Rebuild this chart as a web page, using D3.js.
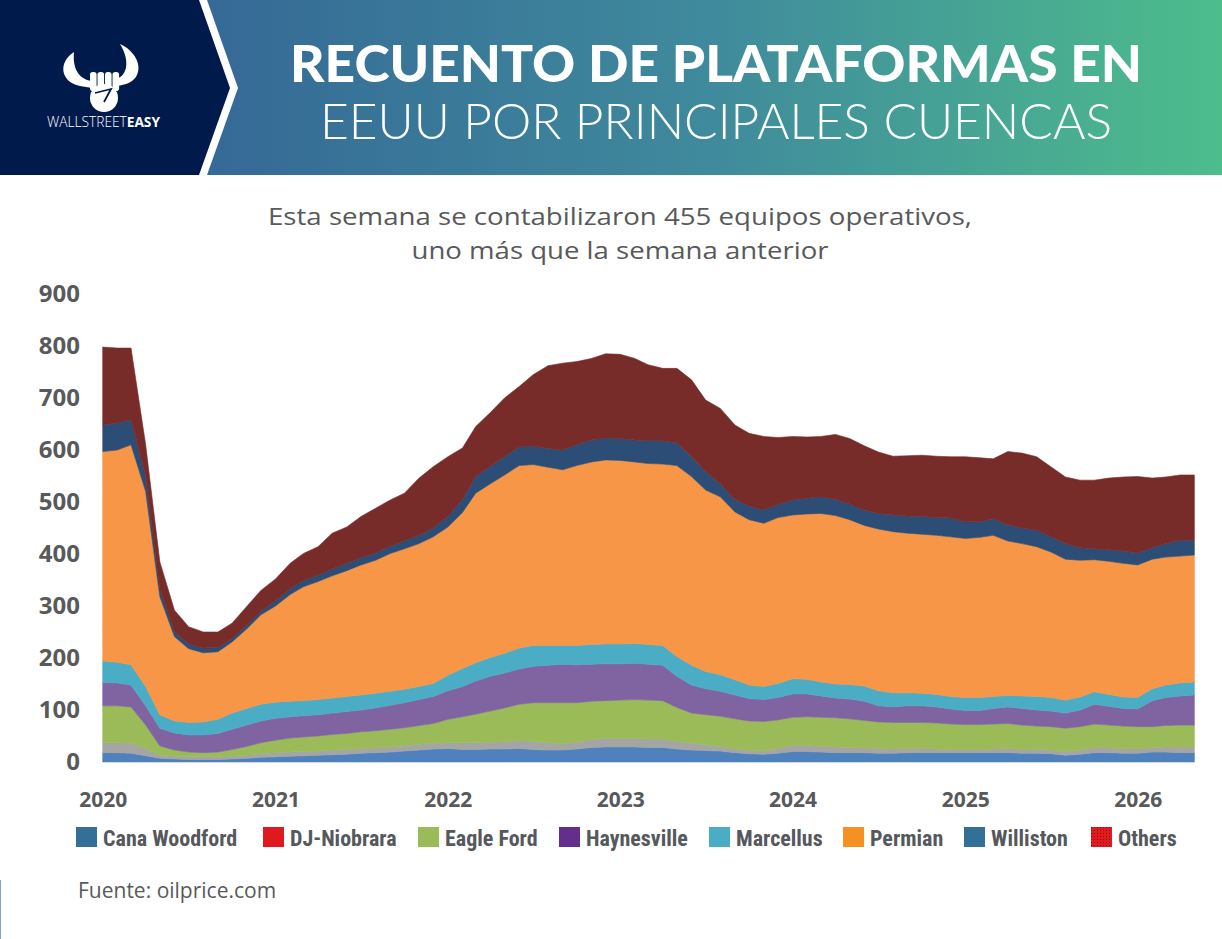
<!DOCTYPE html>
<html>
<head>
<meta charset="utf-8">
<script src="https://cdn.jsdelivr.net/npm/d3@7"></script>
<style>
  body { margin: 0; background: #fff; }
  svg { display: block; }
</style>
</head>
<body>
<svg id="chart" width="1222" height="939"></svg>
<script>
// Monthly points, Jan 2020 .. May 2026
const months = d3.timeMonth.range(new Date(2020, 0, 1), new Date(2026, 5, 1));

const cana = [18,18,17,12,7,6,5,5,5,6,7,9,
  10,11,12,13,14,15,17,18,19,21,23,25,
  26,24,24,25,25,26,24,23,23,25,28,29,
  29,29,28,28,25,23,22,21,18,16,15,17,
  20,20,19,18,18,18,17,17,18,18,18,18,
  18,18,18,18,17,17,16,13,15,18,18,17,
  17,19,19,18,18];
const djNiobrara = [19,19,19,14,6,5,5,5,5,5,6,7,
  8,8,8,8,9,9,9,9,10,10,11,11,
  11,13,13,13,14,15,16,14,12,13,15,16,
  16,16,16,16,14,13,11,9,7,6,6,9,
  12,12,11,11,10,9,9,8,8,8,7,6,
  6,6,7,8,7,7,7,7,8,10,9,9,
  8,9,10,11,11];
const eagleFord = [71,71,70,45,18,12,9,8,9,13,17,21,
  24,27,28,29,30,31,32,33,34,35,36,38,
  45,50,55,60,65,70,74,77,79,76,74,73,
  74,75,75,74,66,58,58,58,58,57,57,55,
  54,55,56,56,55,53,51,51,50,50,50,49,
  48,48,48,48,47,45,45,45,45,45,44,43,
  43,40,41,42,42];
const haynesville = [45,44,42,37,34,33,33,34,36,39,41,42,
  42,41,41,41,41,42,42,44,46,48,50,52,
  55,58,64,67,67,68,70,72,74,73,71,71,
  70,70,69,68,60,54,50,48,46,43,42,43,
  45,44,41,38,38,37,31,30,32,32,31,29,
  27,27,30,32,32,31,30,29,32,38,36,34,
  34,50,54,56,58];
const marcellus = [41,40,39,37,26,23,24,25,27,31,32,32,
  31,30,29,29,29,29,29,28,27,26,25,25,
  30,35,35,36,38,40,40,38,36,37,38,38,
  38,38,38,38,38,38,33,32,29,26,25,27,
  29,28,27,27,28,29,29,27,25,24,24,24,
  25,25,23,22,24,26,26,25,25,24,23,22,
  22,23,24,25,25];
const permian = [403,408,423,375,227,162,142,133,130,137,153,172,
  185,205,219,227,235,242,250,256,265,270,275,282,
  285,300,326,334,343,351,348,343,338,346,351,354,
  353,349,348,349,367,363,349,342,323,318,314,319,
  315,318,324,324,317,309,311,310,307,306,306,307,
  306,308,310,297,293,288,280,271,263,254,256,257,
  255,249,246,244,244];
const williston = [51,52,48,30,14,10,9,9,8,6,7,7,
  10,11,12,12,13,14,14,14,14,15,16,17,
  20,25,32,34,35,36,35,36,38,40,42,42,
  42,42,44,45,44,38,35,25,24,26,26,25,
  29,30,32,31,30,29,30,32,33,34,34,36,
  32,30,32,31,30,32,29,30,24,21,22,24,
  23,22,26,31,28];
const others = [150,144,138,60,53,41,33,31,30,30,36,40,
  42,49,52,55,69,70,79,86,89,92,110,118,
  115,99,96,103,113,116,138,159,167,160,157,162,
  162,157,146,139,143,148,138,145,143,140,141,129,
  122,118,116,125,126,124,118,113,116,118,118,118,
  125,123,115,141,144,141,135,128,130,132,138,142,
  147,134,128,125,126];

const seriesNames = ['Cana Woodford', 'DJ-Niobrara', 'Eagle Ford', 'Haynesville',
  'Marcellus', 'Permian', 'Williston', 'Others'];
const seriesValues = [cana, djNiobrara, eagleFord, haynesville, marcellus, permian, williston, others];
const yTicks = [0, 100, 200, 300, 400, 500, 600, 700, 800, 900];
const yearTicks = [2020, 2021, 2022, 2023, 2024, 2025, 2026];

// colours: areas in the chart, and the (different) legend swatches
const areaColors = ['#4f81bd', '#a5a5a5', '#9bbb59', '#8064a2', '#4bacc6', '#f79646', '#2c4d75', '#772c2a'];
const legendColors = ['#336f96', '#e0191e', '#9bbb59', '#652d8c', '#4bacc6', '#f59120', '#336f96', 'url(#dots)'];
const legendX = [76, 263, 418, 559, 709, 843, 964, 1091];

const svg = d3.select('#chart');
const defs = svg.append('defs');

// ---------- header ----------
const grad = defs.append('linearGradient')
  .attr('id', 'hdr').attr('gradientUnits', 'userSpaceOnUse')
  .attr('x1', 200).attr('x2', 1222).attr('y1', 0).attr('y2', 0);
grad.append('stop').attr('offset', 0).attr('stop-color', '#356996');
grad.append('stop').attr('offset', 0.5).attr('stop-color', '#3f8a9c');
grad.append('stop').attr('offset', 1).attr('stop-color', '#4dbd8c');

const pat = defs.append('pattern').attr('id', 'dots')
  .attr('width', 3).attr('height', 3).attr('patternUnits', 'userSpaceOnUse');
pat.append('rect').attr('width', 3).attr('height', 3).attr('fill', '#e3191e');
pat.append('rect').attr('width', 1).attr('height', 1).attr('fill', '#7a1012');

svg.append('rect').attr('x', 0).attr('y', 0).attr('width', 1222).attr('height', 175).attr('fill', 'url(#hdr)');
svg.append('polygon').attr('points', '0,0 207,0 238,88 207,175 0,175').attr('fill', '#fff');
svg.append('polygon').attr('points', '0,0 199,0 230,88 199,175 0,175').attr('fill', '#011a4c');

// logo (bull horns + fist)
const logo = svg.append('g').attr('fill', '#fff');
logo.append('path').attr('d', 'M74,52 C58,62 60,82 80,86 L92,88 L92,81 C82,80 72,72 74,52 Z');
logo.append('path').attr('d', 'M120,44 C142,54 145,78 126,84 L114,87 L114,80 C127,77 131,62 120,44 Z');
logo.append('circle').attr('cx', 104).attr('cy', 98).attr('r', 14);
[90, 97.5, 105, 112.5].forEach(fx => {
  logo.append('rect').attr('x', fx).attr('y', 72).attr('width', 6.6).attr('height', 19).attr('rx', 2.8);
});
logo.append('path').attr('d', 'M95,93 L111,89 L104,102').attr('fill', 'none')
  .attr('stroke', '#011a4c').attr('stroke-width', 1.8);
const logoText = svg.append('text').attr('x', 47).attr('y', 127)
  .attr('font-family', '"Open Sans", sans-serif').attr('font-size', 14)
  .attr('fill', '#fff').attr('textLength', 113).attr('lengthAdjust', 'spacingAndGlyphs');
logoText.append('tspan').attr('font-weight', 300).text('WALLSTREET');
logoText.append('tspan').attr('font-weight', 700).text('EASY');

svg.append('text').attr('x', 716).attr('y', 82).attr('text-anchor', 'middle')
  .attr('font-family', 'Lato, Inter, sans-serif').attr('font-weight', 900).attr('font-size', 51)
  .attr('fill', '#fff').attr('textLength', 852).attr('lengthAdjust', 'spacingAndGlyphs')
  .text('RECUENTO DE PLATAFORMAS EN');
svg.append('text').attr('x', 716).attr('y', 139).attr('text-anchor', 'middle')
  .attr('font-family', 'Lato, Inter, sans-serif').attr('font-weight', 300).attr('font-size', 50)
  .attr('fill', '#fff').attr('textLength', 792).attr('lengthAdjust', 'spacingAndGlyphs')
  .text('EEUU POR PRINCIPALES CUENCAS');

// subtitle
svg.append('text').attr('x', 620).attr('y', 225).attr('text-anchor', 'middle')
  .attr('font-family', '"Open Sans", sans-serif').attr('font-size', 24.5).attr('fill', '#58595b')
  .attr('textLength', 704).attr('lengthAdjust', 'spacingAndGlyphs')
  .text('Esta semana se contabilizaron 455 equipos operativos,');
svg.append('text').attr('x', 620).attr('y', 259).attr('text-anchor', 'middle')
  .attr('font-family', '"Open Sans", sans-serif').attr('font-size', 24.5).attr('fill', '#58595b')
  .attr('textLength', 417).attr('lengthAdjust', 'spacingAndGlyphs')
  .text('uno más que la semana anterior');

// ---------- chart ----------
const x = d3.scaleTime()
  .domain([new Date(2020, 0, 1), new Date(2026, 0, 1)])
  .range([102.7, 1137.7]);
const y = d3.scaleLinear().domain([0, 900]).range([762, 294]);

const table = months.map((m, i) => {
  const row = { date: m };
  seriesNames.forEach((name, k) => { row[name] = seriesValues[k][i]; });
  return row;
});

const stacked = d3.stack().keys(seriesNames)(table);

const area = d3.area()
  .x(d => x(d.data.date))
  .y0(d => y(d[0]))
  .y1(d => y(d[1]));

svg.append('g')
  .selectAll('path')
  .data(stacked)
  .enter()
  .append('path')
  .attr('d', area)
  .attr('fill', (d, i) => areaColors[i])
  .attr('stroke', (d, i) => areaColors[i])
  .attr('stroke-width', 0.6);

// faint baseline
svg.append('line').attr('x1', x(months[0])).attr('x2', x(months[months.length - 1]))
  .attr('y1', y(0) + 0.5).attr('y2', y(0) + 0.5).attr('stroke', '#cfd8e3').attr('stroke-width', 1);

// y axis
const yAxis = svg.append('g')
  .attr('transform', 'translate(80,0)')
  .call(d3.axisLeft(y).tickValues(yTicks).tickSize(0).tickPadding(0));
yAxis.select('.domain').remove();
yAxis.selectAll('text')
  .attr('font-family', '"Open Sans", sans-serif').attr('font-weight', 700)
  .attr('font-size', 24).attr('fill', '#58595b');

// x axis
const xAxis = svg.append('g')
  .attr('transform', 'translate(0,807)')
  .call(d3.axisBottom(x)
    .tickValues(yearTicks.map(yr => new Date(yr, 0, 1)))
    .tickFormat(d3.timeFormat('%Y'))
    .tickSize(0).tickPadding(0));
xAxis.select('.domain').remove();
xAxis.selectAll('text')
  .attr('y', 0).attr('dy', null)
  .attr('font-family', '"Open Sans", sans-serif').attr('font-weight', 700)
  .attr('font-size', 21).attr('fill', '#58595b');

// legend
const legend = svg.append('g')
  .selectAll('g')
  .data(seriesNames)
  .enter()
  .append('g')
  .attr('transform', (d, i) => `translate(${legendX[i]},827)`);
legend.append('rect')
  .attr('width', 21).attr('height', 20)
  .attr('fill', (d, i) => legendColors[i]);
legend.append('text')
  .attr('x', 27).attr('y', 19)
  .attr('font-family', '"Liberation Sans Narrow", "Roboto Condensed", "DejaVu Sans Condensed", sans-serif')
  .attr('font-stretch', 'condensed')
  .attr('font-weight', 700).attr('font-size', 22).attr('fill', '#55585c')
  .text(d => d);

// source
svg.append('text').attr('x', 78).attr('y', 898)
  .attr('font-family', '"Open Sans", sans-serif').attr('font-size', 21).attr('fill', '#58595b')
  .text('Fuente: oilprice.com');

svg.append('line').attr('x1', 0.5).attr('x2', 0.5).attr('y1', 880).attr('y2', 939)
  .attr('stroke', '#7aa6c4').attr('stroke-width', 1);
</script>
</body>
</html>
